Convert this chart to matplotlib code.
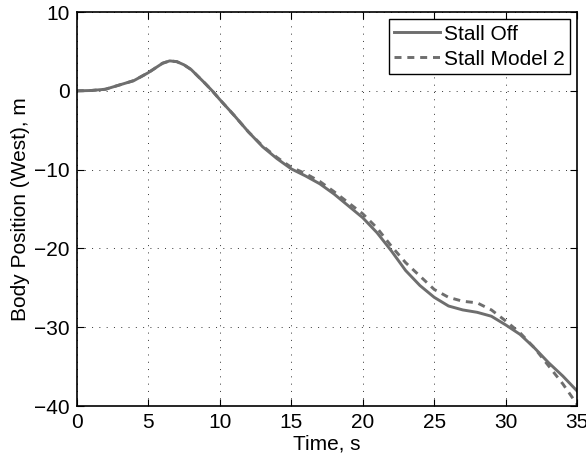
import matplotlib
matplotlib.use("Agg")
import matplotlib.pyplot as plt

plt.rcParams['font.family'] = ['Liberation Sans', 'DejaVu Sans']

# time axis, s
t = [0, 1, 2, 3, 4, 5, 5.5, 6, 6.5, 7, 7.5, 8, 8.5, 9, 9.5, 10, 10.5, 11, 12, 13, 14, 15, 16, 17, 18,
     19, 20, 21, 22, 23, 24, 25, 26, 27, 28, 29, 30, 31, 32, 33, 34, 35]

stall_off = [0, 0.04, 0.2, 0.75, 1.3, 2.3, 2.9, 3.5, 3.8, 3.7, 3.3, 2.7, 1.8, 0.9, -0.05, -1.1, -2.1,
             -3.1, -5.2, -7.1, -8.6, -9.9, -10.8, -11.8, -13.1, -14.6, -16.1, -18.0, -20.3,
             -22.8, -24.7, -26.2, -27.3, -27.8, -28.1, -28.6, -29.7, -30.9, -32.6, -34.5, -36.2, -38.1]

stall_model2 = [0, 0.04, 0.2, 0.75, 1.3, 2.3, 2.9, 3.5, 3.8, 3.7, 3.3, 2.7, 1.8, 0.9, -0.05, -1.1, -2.1,
                -3.1, -5.2, -7.0, -8.45, -9.7, -10.5, -11.5, -12.8, -14.2, -15.6, -17.4, -19.7,
                -21.8, -23.5, -25.2, -26.2, -26.7, -26.9, -27.8, -29.2, -30.7, -32.6, -34.9, -37.2, -39.8]

fig = plt.figure(figsize=(5.86, 4.62), dpi=100)
ax = fig.add_axes([0.131, 0.121, 0.854, 0.853])

line_col = '#6e6e6e'
ax.plot(t, stall_off, color=line_col, lw=2.1, label='Stall Off')
ax.plot(t, stall_model2, color=line_col, lw=2.1, ls=(0, (2.4, 2.0)), label='Stall Model 2')

ax.set_xlim(0, 35)
ax.set_ylim(-40, 10)
ax.set_xticks(range(0, 36, 5))
ax.set_yticks(range(-40, 11, 10))
ax.set_yticklabels(['\u221240', '\u221230', '\u221220', '\u221210', '0', '10'])

ax.grid(True, ls=(0, (1, 6.5)), color='#333333', lw=0.7)
ax.tick_params(direction='in', top=True, right=True, labelsize=15, length=5, width=0.8, pad=5)
for s in ax.spines.values():
    s.set_linewidth(1.2)

ax.set_xlabel('Time, s', fontsize=15, labelpad=2)
ax.set_ylabel('Body Position (West), m', fontsize=15, labelpad=3)

leg = ax.legend(loc='upper right', fontsize=15, fancybox=False, framealpha=1,
                edgecolor='black', borderpad=0.25, handlelength=2.2, handletextpad=0.2,
                labelspacing=0.3, borderaxespad=0.35)
leg.get_frame().set_linewidth(1.0)

fig.savefig('out.png', dpi=100)
